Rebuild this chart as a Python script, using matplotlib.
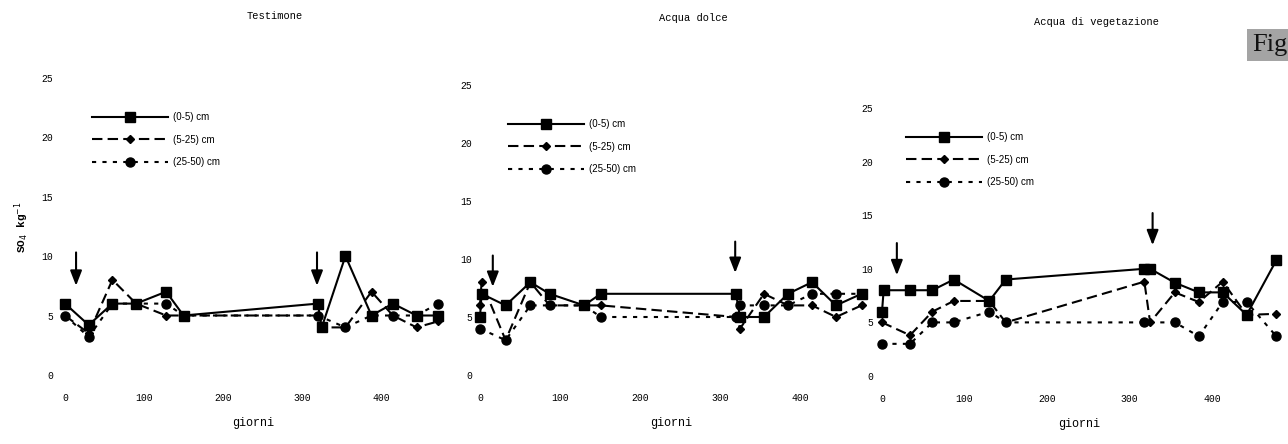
"""Solfati nel suolo (SO4 kg-1) a tre profondita', tre trattamenti.

Ricostruzione della figura a tre pannelli: Testimone, Acqua dolce,
Acqua di vegetazione. Le frecce indicano le date di distribuzione.
"""
import matplotlib
matplotlib.use("Agg")
import matplotlib.pyplot as plt

W, H = 1288, 444

panels = ["Testimone", "Acqua dolce", "Acqua di vegetazione"]
depths = ["(0-5) cm", "(5-25) cm", "(25-50) cm"]

# Testimone
t_days_a = [0, 30, 60, 90, 128, 150, 320, 325, 355, 388, 415, 445, 472]
t_a = [6, 4.2, 6, 6, 7, 5, 6, 4, 10, 5, 6, 5, 5]
t_days_b = [0, 30, 60, 90, 128, 150, 320, 325, 355, 388, 415, 445, 472]
t_b = [5, 3.5, 8, 6, 5, 5, 5, 4, 4, 7, 5, 4, 4.5]
t_days_c = [0, 30, 60, 90, 128, 150, 320, 355, 388, 415, 445, 472]
t_c = [5, 3.2, 6, 6, 6, 5, 5, 4, 5, 5, 5, 6]

# Acqua dolce
d_days_a = [0, 2, 32, 63, 87, 130, 151, 320, 325, 355, 385, 415, 445, 477]
d_a = [5, 7, 6, 8, 7, 6, 7, 7, 5, 5, 7, 8, 6, 7]
d_days_b = [0, 2, 32, 63, 87, 130, 151, 320, 325, 355, 385, 415, 445, 477]
d_b = [6, 8, 3, 8, 6, 6, 6, 5, 4, 7, 6, 6, 5, 6]
d_days_c = [0, 32, 63, 87, 130, 151, 320, 325, 355, 385, 415, 445, 477]
d_c = [4, 3, 6, 6, 6, 5, 5, 6, 6, 6, 7, 7, 7]

# Acqua di vegetazione
v_days_a = [0, 2, 34, 61, 87, 130, 150, 318, 325, 355, 384, 413, 442, 478]
v_a = [6, 8, 8, 8, 9, 7, 9, 10, 10, 8.7, 7.8, 7.8, 5.7, 10.8]
v_days_b = [0, 34, 61, 87, 130, 150, 318, 325, 355, 384, 413, 442, 478]
v_b = [5, 3.8, 6, 7, 7, 5, 8.8, 5, 7.8, 6.9, 8.8, 5.7, 5.8]
v_days_c = [0, 34, 61, 87, 130, 150, 318, 355, 384, 413, 442, 478]
v_c = [3, 3, 5, 5, 6, 5, 5, 5, 3.7, 6.9, 6.9, 3.7]

# treatment dates (arrows): day, top, tip
arrows = [
    [(14, 10.3, 7.5), (319, 10.3, 7.5)],
    [(16, 10.3, 7.6), (319, 11.5, 8.8)],
    [(18, 12.4, 9.4), (328, 15.2, 12.2)],
]

series = [
    [(t_days_a, t_a), (t_days_b, t_b), (t_days_c, t_c)],
    [(d_days_a, d_a), (d_days_b, d_b), (d_days_c, d_c)],
    [(v_days_a, v_a), (v_days_b, v_b), (v_days_c, v_c)],
]

# pixel geometry of each panel: x of day 0, px per day, y of 0, px per unit
geom = [
    (65, 0.79, 375, 11.9),
    (480, 0.80, 375, 11.6),
    (882, 0.825, 376, 10.72),
]
ypads = [4, 1.2, 1.5]
title_xy = [(275, 16), (693, 18), (1097, 22)]
legend_xy = [(92, 112), (508, 119), (906, 132)]

XLIM = (-8, 485)
YLIM = (0, 27)

mono = "Liberation Mono"
styles = [
    dict(linestyle="-", marker="s", markersize=6.5),
    dict(linestyle=(0, (5, 2.5)), marker="D", markersize=4.5),
    dict(linestyle=(0, (2, 3)), marker="o", markersize=6.5),
]

fig = plt.figure(figsize=(W / 100, H / 100), dpi=100)

for i, name in enumerate(panels):
    x0, xs, y0, ys = geom[i]
    left = x0 + XLIM[0] * xs
    right = x0 + XLIM[1] * xs
    bot = y0 - YLIM[0] * ys
    top = y0 - YLIM[1] * ys
    ax = fig.add_axes([left / W, 1 - bot / H, (right - left) / W, (bot - top) / H])
    ax.patch.set_visible(False)

    handles = []
    for (days, vals), st, lab in zip(series[i], styles, depths):
        ln, = ax.plot(days, vals, color="black", lw=1.5, clip_on=False,
                      markerfacecolor="black", markeredgecolor="black",
                      label=lab, **st)
        handles.append(ln)

    for xd, ya, yb in arrows[i]:
        ax.annotate("", xy=(xd, yb), xytext=(xd, ya),
                    arrowprops=dict(arrowstyle="-|>,head_length=0.9,head_width=0.35",
                                    color="black", lw=1.5, shrinkA=0, shrinkB=0))

    ax.set_xlim(*XLIM)
    ax.set_ylim(*YLIM)
    ax.set_xticks([0, 100, 200, 300, 400])
    ax.set_yticks([0, 5, 10, 15, 20, 25])
    for s in ax.spines.values():
        s.set_visible(False)
    ax.tick_params(axis="x", length=0, pad=13, labelsize=7)
    ax.tick_params(axis="y", length=0, pad=ypads[i], labelsize=7)
    for t in ax.get_xticklabels() + ax.get_yticklabels():
        t.set_family(mono)

    ax.set_xlabel("giorni", family=mono, fontsize=8.5, labelpad=10)

    tx, ty = title_xy[i]
    fig.text(tx / W, 1 - ty / H, name, family=mono, fontsize=7.5,
             ha="center", va="center")

    lx, ly = legend_xy[i]
    ax.legend(handles=handles, loc="upper left",
              bbox_to_anchor=(lx / W, 1 - ly / H), bbox_transform=fig.transFigure,
              frameon=False, borderpad=0, borderaxespad=0,
              handlelength=7.8, handletextpad=0.5, labelspacing=1.3,
              numpoints=1, prop=dict(family="Liberation Sans", size=7))

    if i == 0:
        ax.set_ylabel("SO$_4$ kg$^{-1}$", family=mono, fontsize=8, fontweight="bold")
        ax.yaxis.set_label_coords(22 / W, 1 - 227 / H, transform=fig.transFigure)
        ax.yaxis.label.set_va("center")

fig.text(1252 / W, 1 - 45 / H, "Fig", family="Liberation Serif", fontsize=19,
         ha="left", va="center", color="#111111",
         bbox=dict(facecolor="#a4a4a4", edgecolor="none", pad=3.5))

fig.savefig("out.png", dpi=100)
